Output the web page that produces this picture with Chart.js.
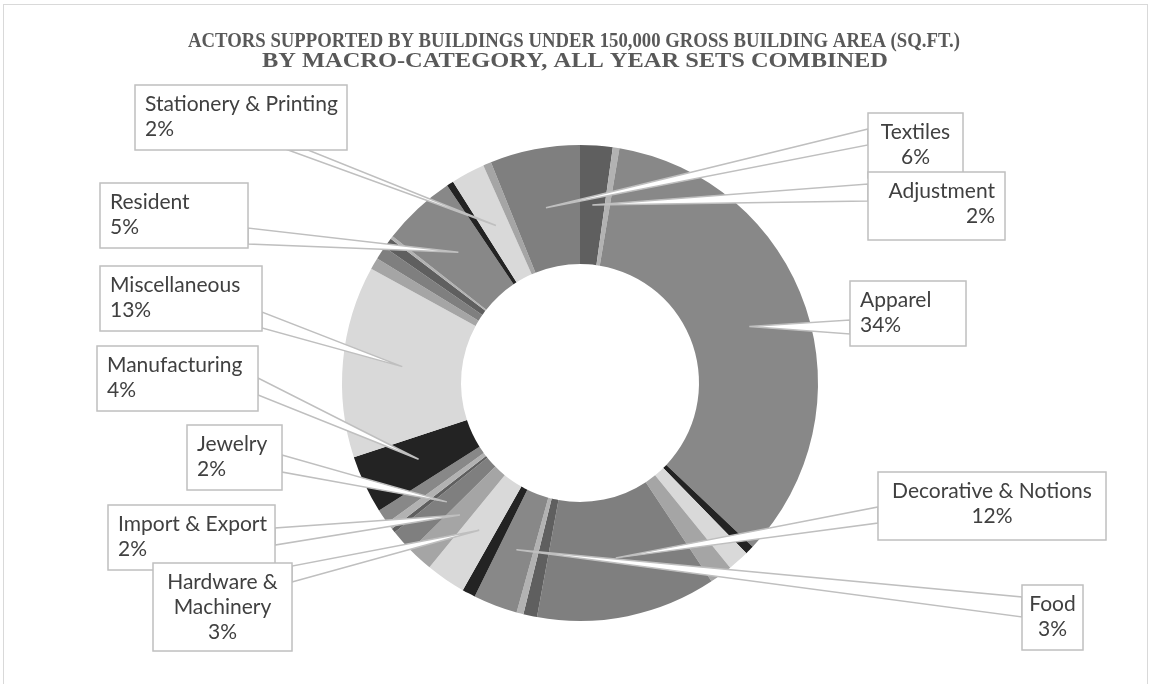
<!DOCTYPE html>
<html>
<head>
<meta charset="utf-8">
<title>Actors by macro-category</title>
<script src="https://cdn.jsdelivr.net/npm/chart.js@4.4.1/dist/chart.umd.min.js"></script>
<style>
  html, body { margin: 0; padding: 0; background: #ffffff; }
  #wrap { position: relative; width: 1151px; height: 684px; }
</style>
</head>
<body>
<div id="wrap"><canvas id="actorsChart" width="1151" height="684"></canvas></div>
<script>
// slices in drawing order, clockwise from 12 o'clock; unnamed ones carry no label
const categories = [
  'Adjustment', '', 'Apparel', '', '', '', 'Decorative & Notions', '', '',
  'Food', '', 'Hardware & Machinery', 'Import & Export', 'Jewelry', '', '', '',
  'Manufacturing', 'Miscellaneous', '', '', '', '', 'Resident', '',
  'Stationery & Printing', '', 'Textiles'
];
// share of actors, percent
const shares = [
  2.2, 0.45, 34.4, 0.6, 1.45, 1.55, 12.2, 0.93, 0.47,
  3.0, 0.9, 2.7, 1.7, 1.6, 0.3, 0.5, 1.0,
  3.95, 13.0, 0.8, 0.9, 0.7, 0.2, 5.0, 0.47,
  2.3, 0.55, 6.1
];
const greys = ['#5f5f5f', '#b2b2b2', '#888888', '#232323', '#d9d9d9', '#a5a5a5', '#7f7f7f'];
const titleLines = [
  'ACTORS SUPPORTED BY BUILDINGS UNDER 150,000 GROSS BUILDING AREA (SQ.FT.)',
  'BY MACRO-CATEGORY, ALL YEAR SETS COMBINED'
];

const total = shares.reduce((a, b) => a + b, 0);
const pct = v => Math.round(v / total * 100) + '%';

// callout boxes: [left, top, width, height], text alignment, wedge base on the box edge
const callouts = {
  'Stationery & Printing': { box: [135, 85, 212, 65], align: 'left', base: [[288, 150], [308, 150]] },
  'Resident':              { box: [100, 183, 148, 65], align: 'left', base: [[248, 228], [248, 244]] },
  'Miscellaneous':         { box: [100, 266, 162, 65], align: 'left', base: [[262, 312], [262, 328]] },
  'Manufacturing':         { box: [97, 346, 161, 65], align: 'left', base: [[258, 378], [258, 395]] },
  'Jewelry':               { box: [187, 425, 95, 65], align: 'left', base: [[282, 455], [282, 472]] },
  'Import & Export':       { box: [108, 505, 167, 65], align: 'left', base: [[275, 528], [275, 545]] },
  'Hardware & Machinery':  { box: [153, 563, 139, 88], align: 'center', lines: ['Hardware &', 'Machinery'], base: [[292, 566], [292, 582]] },
  'Textiles':              { box: [868, 113, 95, 65], align: 'center', base: [[868, 129], [868, 145]] },
  'Adjustment':            { box: [868, 172, 137, 68], align: 'right', base: [[868, 184], [868, 201]] },
  'Apparel':               { box: [850, 281, 116, 65], align: 'left', base: [[850, 320], [850, 334]] },
  'Decorative & Notions':  { box: [878, 472, 228, 68], align: 'center', base: [[878, 507], [878, 523]] },
  'Food':                  { box: [1022, 585, 61, 65], align: 'center', base: [[1022, 597], [1022, 617]] }
};

function fitText(ctx, text, cx, y, width) {
  const w = ctx.measureText(text).width;
  ctx.save();
  ctx.translate(cx, y);
  ctx.scale(width / w, 1);
  ctx.fillText(text, 0, 0);
  ctx.restore();
}

const frameAndTitle = {
  id: 'frameAndTitle',
  beforeDraw(chart) {
    const ctx = chart.ctx;
    ctx.save();
    ctx.strokeStyle = '#d9d9d9';
    ctx.lineWidth = 1;
    ctx.strokeRect(3.5, 4.5, 1144, 700);
    ctx.fillStyle = '#595959';
    ctx.font = 'bold 21px "Liberation Serif", "Times New Roman", serif';
    ctx.textAlign = 'center';
    ctx.textBaseline = 'alphabetic';
    fitText(ctx, titleLines[0], 574, 47, 772);
    fitText(ctx, titleLines[1], 575, 67, 626);
    ctx.restore();
  }
};

const calloutLabels = {
  id: 'calloutLabels',
  afterDatasetsDraw(chart) {
    const ctx = chart.ctx;
    const arcs = chart.getDatasetMeta(0).data;
    ctx.save();
    // wedges from each box to the middle of its slice
    Object.entries(callouts).forEach(([name, c]) => {
      const arc = arcs[categories.indexOf(name)];
      const p = arc.getProps(['x', 'y', 'startAngle', 'endAngle', 'innerRadius', 'outerRadius'], true);
      const mid = (p.startAngle + p.endAngle) / 2;
      const r = (p.innerRadius + p.outerRadius) / 2;
      const ax = p.x + Math.cos(mid) * r;
      const ay = p.y + Math.sin(mid) * r;
      ctx.beginPath();
      ctx.moveTo(ax, ay);
      ctx.lineTo(c.base[0][0], c.base[0][1]);
      ctx.lineTo(c.base[1][0], c.base[1][1]);
      ctx.closePath();
      ctx.fillStyle = '#ffffff';
      ctx.fill();
      ctx.strokeStyle = '#bfbfbf';
      ctx.lineWidth = 1.5;
      ctx.stroke();
    });
    // boxes and their text
    ctx.font = '21px Lato, "Open Sans", sans-serif';
    ctx.textBaseline = 'middle';
    Object.entries(callouts).forEach(([name, c]) => {
      const [x, y, w, h] = c.box;
      ctx.fillStyle = '#ffffff';
      ctx.fillRect(x, y, w, h);
      ctx.strokeStyle = '#bfbfbf';
      ctx.lineWidth = 1.5;
      ctx.strokeRect(x, y, w, h);
      const lines = (c.lines || [name]).concat(pct(shares[categories.indexOf(name)]));
      ctx.fillStyle = '#404040';
      ctx.textAlign = c.align;
      const tx = c.align === 'left' ? x + 10 : c.align === 'right' ? x + w - 10 : x + w / 2;
      lines.forEach((t, k) => ctx.fillText(t, tx, y + 19 + k * 25));
    });
    ctx.restore();
  }
};

new Chart(document.getElementById('actorsChart'), {
  type: 'doughnut',
  data: {
    labels: categories,
    datasets: [{
      data: shares,
      backgroundColor: categories.map((_, i) => greys[i % greys.length]),
      borderWidth: 0,
      hoverOffset: 0,
      offset: 0
    }]
  },
  options: {
    responsive: false,
    animation: false,
    cutout: '50%',
    layout: { padding: { left: 342, right: 333, top: 145, bottom: 63 } },
    plugins: {
      legend: { display: false },
      tooltip: { enabled: false }
    }
  },
  plugins: [frameAndTitle, calloutLabels]
});
</script>
</body>
</html>
